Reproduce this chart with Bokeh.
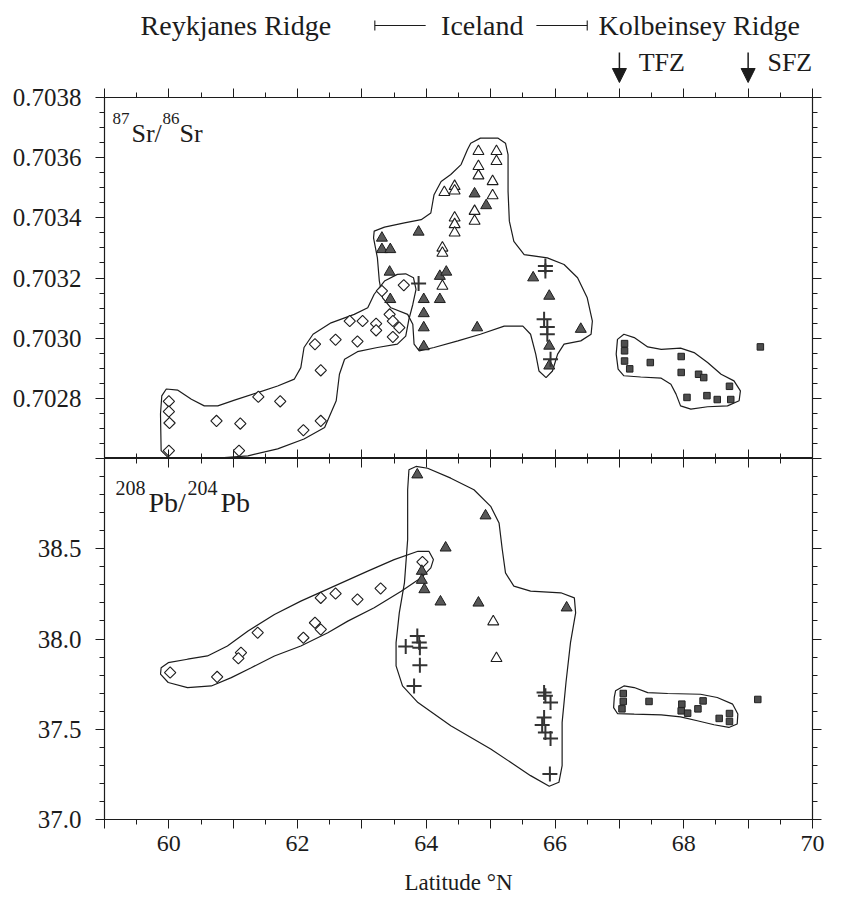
import math
from bokeh.plotting import figure
from bokeh.models import (Range1d, FixedTicker, CustomJSTickFormatter,
                          LinearAxis, Label, Arrow, NormalHead)
from bokeh.layouts import column
from bokeh.embed import file_html
from bokeh.resources import INLINE
from bokeh.core.properties import value

# ---------------- data : 87Sr/86Sr panel ----------------
DIA_SR_LAT = [60.00, 60.00, 60.01, 60.00, 60.74, 61.11, 61.09, 61.39, 61.73, 62.09, 62.36, 62.36, 62.27,
              62.59, 62.93, 62.81, 63.01, 63.22, 63.22, 63.43, 63.48, 63.58, 63.48, 63.31, 63.65]
DIA_SR = [0.70279, 0.702756, 0.702718, 0.702626, 0.702725, 0.702716, 0.702626, 0.702805, 0.70279, 0.702694,
          0.702725, 0.702893, 0.70298, 0.702995, 0.702989, 0.703057, 0.703057, 0.703048, 0.703026, 0.703079,
          0.703057, 0.703035, 0.703004, 0.703157, 0.703176]

FTRI_SR_LAT = [63.31, 63.31, 63.44, 63.43, 63.44, 63.88, 63.96, 63.96, 63.96, 63.96, 64.21, 64.21, 64.31,
               64.75, 64.93, 64.79, 65.66, 65.91, 65.91, 65.91, 66.40]
FTRI_SR = [0.703333, 0.703295, 0.703295, 0.70322, 0.703129, 0.703353, 0.703129, 0.703082, 0.703035, 0.702972,
           0.703129, 0.703206, 0.70322, 0.70348, 0.703441, 0.703035, 0.703201, 0.70314, 0.702974, 0.702908,
           0.70303]

OTRI_SR_LAT = [64.81, 65.09, 65.09, 64.81, 64.81, 65.03, 65.03, 64.28, 64.44, 64.44, 64.75, 64.75, 64.44,
               64.44, 64.44, 64.25, 64.25, 64.25]
OTRI_SR = [0.703621, 0.703621, 0.703588, 0.703571, 0.70354, 0.703521, 0.703474, 0.703485, 0.703505, 0.70349,
           0.703422, 0.703389, 0.7034, 0.703378, 0.70335, 0.7033, 0.703283, 0.703173]

CROSS_SR_LAT = [63.88, 65.85, 65.85, 65.83, 65.88, 65.88, 65.93]
CROSS_SR = [0.703182, 0.70324, 0.703223, 0.703063, 0.703037, 0.703013, 0.70293]

SQ_SR_LAT = [67.08, 67.08, 67.08, 67.16, 67.48, 67.96, 67.96, 68.23, 68.31, 68.71, 68.05, 68.36, 68.52,
             68.73, 69.19]
SQ_SR = [0.702982, 0.702958, 0.702924, 0.702898, 0.702919, 0.702939, 0.702886, 0.70288, 0.702869, 0.70284,
         0.702803, 0.702809, 0.702796, 0.702796, 0.702971]

# envelopes (outline vertices, latitude / ratio)
REYK_SR_LAT = [59.96, 60.14, 60.35, 60.55, 60.76, 61.02, 61.38, 61.69, 61.95, 62.05, 62.10, 62.24, 62.52,
               62.88, 63.09, 63.19, 63.35, 63.55, 63.68, 63.80, 63.84, 63.79, 63.73, 63.68, 63.55, 63.24,
               62.93, 62.73, 62.65, 62.60, 62.42, 62.10, 61.69, 61.23, 60.86, 60.35, 59.99, 59.88, 59.87,
               59.89]
REYK_SR = [0.702831, 0.702827, 0.702797, 0.702775, 0.702775, 0.702794, 0.702819, 0.702841, 0.702864,
           0.702902, 0.702969, 0.703013, 0.703051, 0.703079, 0.703101, 0.703146, 0.70319, 0.703212,
           0.703214, 0.703201, 0.703162, 0.703112, 0.703063, 0.703007, 0.70298, 0.702969, 0.702955,
           0.70293, 0.70288, 0.702792, 0.702703, 0.702665, 0.702632, 0.702609, 0.702603, 0.702603,
           0.702603, 0.702626, 0.702748, 0.702808]

ICE_SR_LAT = [63.19, 63.35, 63.66, 63.92, 64.07, 64.12, 64.23, 64.38, 64.54, 64.64, 64.69, 64.84, 65.11,
              65.23, 65.27, 65.27, 65.29, 65.36, 65.52, 65.88, 66.14, 66.35, 66.50, 66.58, 66.56, 66.40,
              66.14, 66.04, 65.96, 65.86, 65.75, 65.70, 65.62, 65.50, 65.21, 64.84, 64.49, 64.12, 63.89,
              63.81, 63.79, 63.71, 63.45, 63.32, 63.27, 63.24, 63.18]
ICE_SR = [0.703356, 0.703369, 0.703383, 0.703394, 0.703416, 0.703477, 0.703521, 0.703544, 0.703577,
          0.703627, 0.703648, 0.703665, 0.703665, 0.703648, 0.70361, 0.703488, 0.703389, 0.703322,
          0.703278, 0.703267, 0.703245, 0.703201, 0.703134, 0.703057, 0.703013, 0.702991, 0.70298,
          0.702947, 0.702891, 0.702869, 0.702891, 0.702947, 0.703013, 0.70304, 0.70304, 0.703013,
          0.702991, 0.702969, 0.702958, 0.70298, 0.703046, 0.703079, 0.703101, 0.703134, 0.70319,
          0.703267, 0.703333]

KOL_SR_LAT = [66.97, 67.07, 67.23, 67.44, 67.65, 67.95, 68.16, 68.37, 68.58, 68.78, 68.88, 68.86, 68.68,
              68.37, 68.11, 67.95, 67.88, 67.80, 67.65, 67.33, 67.07, 66.98, 66.95]
KOL_SR = [0.702996, 0.703013, 0.703002, 0.702971, 0.702963, 0.702967, 0.702952, 0.702919, 0.70288,
          0.702858, 0.702825, 0.702792, 0.702775, 0.702772, 0.702764, 0.702775, 0.702814, 0.702847,
          0.702867, 0.702871, 0.702875, 0.702897, 0.702947]

# ---------------- data : 208Pb/204Pb panel ----------------
DIA_PB_LAT = [60.02, 60.75, 61.12, 61.08, 61.38, 62.09, 62.27, 62.36, 62.36, 62.59, 62.93, 63.29, 63.94]
DIA_PB = [37.814, 37.79, 37.924, 37.893, 38.035, 38.007, 38.09, 38.053, 38.228, 38.252, 38.219, 38.28, 38.427]

FTRI_PB_LAT = [63.86, 64.92, 64.30, 63.93, 63.93, 63.97, 64.22, 64.81, 66.18]
FTRI_PB = [38.91, 38.683, 38.505, 38.376, 38.326, 38.274, 38.206, 38.2, 38.173]

OTRI_PB_LAT = [65.04, 65.09]
OTRI_PB = [38.096, 37.893]

CROSS_PB_LAT = [63.86, 63.89, 63.90, 63.68, 63.90, 63.81, 65.83, 65.85, 65.93, 65.83, 65.80, 65.85, 65.93, 65.92]
CROSS_PB = [38.017, 37.98, 37.952, 37.958, 37.855, 37.74, 37.703, 37.685, 37.648, 37.565, 37.523, 37.482,
            37.449, 37.252]

SQ_PB_LAT = [67.06, 67.06, 67.04, 67.46, 67.97, 67.96, 68.06, 68.22, 68.30, 68.55, 68.71, 68.71, 69.15]
SQ_PB = [37.698, 37.654, 37.613, 37.654, 37.639, 37.602, 37.589, 37.613, 37.657, 37.56, 37.587, 37.543, 37.665]

REYK_PB_LAT = [59.88, 59.99, 60.29, 60.60, 60.91, 61.23, 61.64, 62.05, 62.57, 63.09, 63.50, 63.87, 64.04,
               64.11, 64.07, 63.92, 63.61, 63.19, 62.78, 62.47, 62.05, 61.64, 61.28, 60.97, 60.66, 60.29,
               59.99, 59.87]
REYK_PB = [37.841, 37.869, 37.888, 37.906, 37.961, 38.044, 38.136, 38.21, 38.293, 38.376, 38.44, 38.486,
           38.486, 38.44, 38.394, 38.339, 38.265, 38.173, 38.099, 38.035, 37.961, 37.906, 37.841, 37.786,
           37.74, 37.731, 37.759, 37.805]

ICE_PB_LAT = [63.73, 63.84, 64.02, 64.38, 64.74, 65.00, 65.13, 65.18, 65.23, 65.36, 65.62, 66.09, 66.30,
              66.32, 66.24, 66.17, 66.11, 66.11, 66.06, 65.91, 65.62, 65.00, 64.38, 63.87, 63.63, 63.53,
              63.53, 63.58, 63.66, 63.71, 63.71]
ICE_PB = [38.938, 38.956, 38.946, 38.891, 38.827, 38.735, 38.643, 38.496, 38.366, 38.293, 38.265, 38.256,
          38.228, 38.145, 37.98, 37.759, 37.538, 37.298, 37.206, 37.184, 37.243, 37.391, 37.519, 37.648,
          37.74, 37.851, 37.98, 38.145, 38.311, 38.551, 38.827]

KOL_PB_LAT = [66.94, 67.07, 67.23, 67.44, 67.75, 68.26, 68.52, 68.76, 68.84, 68.83, 68.70, 68.47, 68.21,
              67.95, 67.65, 67.23, 66.97, 66.91, 66.92]
KOL_PB = [37.713, 37.74, 37.731, 37.703, 37.698, 37.694, 37.676, 37.639, 37.584, 37.529, 37.51, 37.525,
          37.547, 37.569, 37.58, 37.584, 37.587, 37.62, 37.676]

# axis ticks
X_TICKS = list(range(59, 71))
SR_TICKS = [0.7026, 0.7028, 0.7030, 0.7032, 0.7034, 0.7036, 0.7038]
PB_TICKS = [37.0, 37.5, 38.0, 38.5, 39.0]

# header texts
REGIONS = ["Reykjanes Ridge", "Iceland", "Kolbeinsey Ridge"]
ZONES = ["TFZ", "SFZ"]
ZONE_LAT = [67.0, 69.0]

# ---------------- styling ----------------
FONT = "Liberation Serif"
INK = "#1c1c1c"
W, LB, RB = 836, 104, 24
HDR_H, TOP_B, FRAME_H, BOT_B = 83, 14, 361, 80

xr = Range1d(59, 70)
x_tick = FixedTicker(ticks=X_TICKS, minor_ticks=[59 + 0.5 * i for i in range(23)])
sr_tick = FixedTicker(ticks=SR_TICKS, minor_ticks=[0.7026 + 0.00005 * i for i in range(25)])
pb_tick = FixedTicker(ticks=PB_TICKS, minor_ticks=[37.0 + 0.1 * i for i in range(21)])
blank = CustomJSTickFormatter(code="return '';")


def axis(ticker, formatter=None, tin=0, tout=9, min_in=0, min_out=5, labelled=False):
    ax = LinearAxis(ticker=ticker, formatter=formatter if formatter is not None else blank,
                    axis_line_color=INK, major_tick_line_color=INK, minor_tick_line_color=INK,
                    major_tick_in=tin, major_tick_out=tout, minor_tick_in=min_in, minor_tick_out=min_out)
    if labelled:
        ax.major_label_text_font = FONT
        ax.major_label_text_font_size = "25px"
        ax.major_label_text_color = INK
        ax.major_label_standoff = 14
    else:
        ax.major_label_text_font_size = "0px"
        ax.major_label_standoff = 0
    return ax


def base(height, yr, btop, bbot, axes=True):
    f = figure(width=W, height=height, x_range=xr, y_range=yr, output_backend="svg",
               toolbar_location=None, x_axis_location=None, y_axis_location=None,
               min_border_left=LB, min_border_right=RB, min_border_top=btop, min_border_bottom=bbot)
    f.grid.visible = False
    f.outline_line_color = INK if axes else None
    f.outline_line_width = 1.2
    f.background_fill_color = "white"
    f.border_fill_color = "white"
    return f


def draw_panel(f, envs, dia, ftri, otri, cross, sq):
    for lx, ly in envs:
        f.patch(lx, ly, fill_alpha=0, line_color=INK, line_width=1.2)
    f.scatter(dia[0], dia[1], marker="square", angle=math.pi / 4, size=8,
              fill_color="white", line_color=INK, line_width=1.1)
    f.scatter(ftri[0], ftri[1], marker="triangle", size=11, fill_color="#585858",
              line_color=INK, line_width=1)
    f.scatter(otri[0], otri[1], marker="triangle", size=11, fill_color="white",
              line_color=INK, line_width=1.1)
    f.scatter(cross[0], cross[1], marker="cross", size=15, line_color="#333333", line_width=2)
    f.scatter(sq[0], sq[1], marker="square", size=6.5, fill_color="#4d4d4d",
              line_color="#222222", line_width=1)


# ---------------- header ----------------
hdr = base(HDR_H, Range1d(0, HDR_H), 0, 0, axes=False)
hdr.text(x=[61.04, 64.87, 68.24], y=[58, 58, 58], text=REGIONS, text_align="center",
         text_baseline="middle", text_font=value(FONT), text_font_size="28px", text_color=INK)
hdr.segment(x0=[63.20, 65.71, 63.20, 66.50], y0=[58, 58, 53, 53],
            x1=[63.99, 66.50, 63.20, 66.50], y1=[58, 58, 63, 63], line_color=INK, line_width=1.1)
hdr.text(x=[z + 0.30 for z in ZONE_LAT], y=[21.5, 21.5], text=ZONES, text_align="left",
         text_baseline="middle", text_font=value(FONT), text_font_size="26px", text_color=INK)
for z in ZONE_LAT:
    hdr.add_layout(Arrow(end=NormalHead(size=14, fill_color=INK, line_color=INK),
                         x_start=z, y_start=31, x_end=z, y_end=1, line_color=INK, line_width=1.5))

# ---------------- top panel ----------------
top = base(TOP_B + FRAME_H, Range1d(0.7026, 0.7038), TOP_B, 0)
top.add_layout(axis(sr_tick, CustomJSTickFormatter(
    code="return tick < 0.70265 ? '' : tick.toFixed(4);"), labelled=True), "left")
top.add_layout(axis(sr_tick), "right")
top.add_layout(axis(x_tick), "above")
top.add_layout(axis(x_tick, tin=9, tout=0, min_in=5, min_out=0), "below")
draw_panel(top, [(REYK_SR_LAT, REYK_SR), (ICE_SR_LAT, ICE_SR), (KOL_SR_LAT, KOL_SR)],
           (DIA_SR_LAT, DIA_SR), (FTRI_SR_LAT, FTRI_SR), (OTRI_SR_LAT, OTRI_SR),
           (CROSS_SR_LAT, CROSS_SR), (SQ_SR_LAT, SQ_SR))
for txt, lx, ly, fs in [("87", 59.124, 0.70373, "17px"), ("Sr/", 59.419, 0.70368, "26px"),
                        ("86", 59.901, 0.70373, "17px"), ("Sr", 60.165, 0.70368, "26px")]:
    top.add_layout(Label(x=lx, y=ly, text=txt, text_font=FONT, text_font_size=fs,
                         text_color=INK, text_baseline="alphabetic", text_align="left"))

# ---------------- bottom panel ----------------
bot = base(FRAME_H + BOT_B, Range1d(37.0, 39.0), 0, BOT_B)
bot.add_layout(axis(pb_tick, CustomJSTickFormatter(
    code="return tick > 38.95 ? '' : tick.toFixed(1);"), labelled=True), "left")
bot.add_layout(axis(pb_tick), "right")
bot.add_layout(axis(x_tick, tin=9, tout=0, min_in=5, min_out=0), "above")
xb = axis(x_tick, CustomJSTickFormatter(code="return (tick % 2 == 0) ? tick.toFixed(0) : '';"),
          labelled=True)
xb.major_label_text_font_size = "24px"
xb.major_label_standoff = 7
xb.axis_label = "Latitude °N"
xb.axis_label_text_font = FONT
xb.axis_label_text_font_size = "23px"
xb.axis_label_text_font_style = "normal"
xb.axis_label_text_color = INK
xb.axis_label_standoff = 16
bot.add_layout(xb, "below")
draw_panel(bot, [(REYK_PB_LAT, REYK_PB), (ICE_PB_LAT, ICE_PB), (KOL_PB_LAT, KOL_PB)],
           (DIA_PB_LAT, DIA_PB), (FTRI_PB_LAT, FTRI_PB), (OTRI_PB_LAT, OTRI_PB),
           (CROSS_PB_LAT, CROSS_PB), (SQ_PB_LAT, SQ_PB))
for txt, lx, ly, fs in [("208", 59.171, 38.834, "20px"), ("Pb/", 59.683, 38.756, "28px"),
                        ("204", 60.289, 38.834, "20px"), ("Pb", 60.802, 38.756, "28px")]:
    bot.add_layout(Label(x=lx, y=ly, text=txt, text_font=FONT, text_font_size=fs,
                         text_color=INK, text_baseline="alphabetic", text_align="left"))

layout = column(hdr, top, bot, spacing=0)
open("out.html", "w").write(file_html(layout, INLINE))
